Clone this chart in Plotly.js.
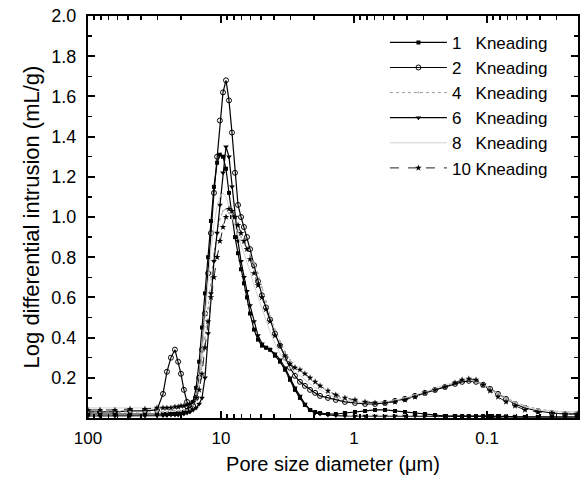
<!DOCTYPE html>
<html>
<head>
<meta charset="utf-8">
<script src="https://cdn.plot.ly/plotly-3.0.1.min.js"></script>
<style>html,body{margin:0;padding:0;background:#fff;}#chart{width:584px;height:483px;}</style>
</head>
<body>
<div id="chart"></div>
<script>
// Pore size diameter (µm), common intrusion steps
const poreSize = [100, 81.2, 62.7, 48.3, 37.3, 30.3, 27.3, 25.5, 23.8, 22.2, 21.0, 20.0, 19.0, 18.0, 17.1, 16.2, 15.4, 14.6, 13.9, 13.2,
  12.5, 11.9, 11.3, 10.7, 10.2, 9.66, 9.17, 8.71, 8.27, 7.85, 7.45, 7.07, 6.72, 6.38, 6.05, 5.65, 5.27, 4.92, 4.59, 4.28,
  3.93, 3.60, 3.30, 3.03, 2.78, 2.55, 2.34, 2.14, 1.96, 1.80, 1.57, 1.37, 1.17, 0.983, 0.826, 0.695, 0.585, 0.492, 0.414, 0.348,
  0.293, 0.246, 0.207, 0.174, 0.154, 0.137, 0.121, 0.107, 0.0949, 0.0827, 0.0720, 0.0616, 0.0518, 0.0414, 0.0325, 0.0259, 0.0210];

const seriesNames = ["1\u00A0\u00A0 Kneading", "2\u00A0\u00A0 Kneading", "4\u00A0\u00A0 Kneading", "6\u00A0\u00A0 Kneading", "8\u00A0\u00A0 Kneading", "10 Kneading"];

const kneading1 = [0.02,0.02,0.02,0.02,0.02,0.02,0.02,0.02,0.02,0.02,0.025,0.025,0.03,0.04,0.05,0.08,0.15,0.28,0.45,0.62,
  0.80,0.98,1.15,1.27,1.31,1.30,1.24,1.12,1.00,0.90,0.82,0.74,0.67,0.60,0.52,0.44,0.39,0.36,0.35,0.34,
  0.31,0.28,0.24,0.19,0.14,0.10,0.065,0.04,0.03,0.025,0.02,0.02,0.025,0.03,0.035,0.04,0.04,0.035,0.03,0.025,
  0.02,0.015,0.01,0.01,0.01,0.01,0.01,0.01,0.01,0.01,0.008,0.006,0.005,0.005,0.005,0.005,0.005];

const kneading2 = [0.03,0.03,0.03,0.035,0.035,0.04,0.12,0.23,0.30,0.34,0.28,0.22,0.14,0.08,0.05,0.06,0.10,0.20,0.34,0.52,
  0.72,0.92,1.12,1.30,1.48,1.62,1.68,1.58,1.42,1.22,1.06,1.00,0.95,0.90,0.84,0.76,0.68,0.61,0.55,0.49,
  0.42,0.36,0.30,0.25,0.21,0.18,0.16,0.14,0.125,0.11,0.10,0.09,0.08,0.075,0.07,0.07,0.075,0.085,0.095,0.11,
  0.125,0.14,0.155,0.17,0.18,0.185,0.18,0.165,0.145,0.12,0.095,0.07,0.05,0.035,0.025,0.02,0.02];

const kneading4 = [0.03,0.03,0.03,0.03,0.03,0.03,0.03,0.03,0.035,0.035,0.035,0.035,0.04,0.04,0.045,0.06,0.09,0.15,0.26,0.40,
  0.55,0.70,0.82,0.92,0.99,1.03,1.04,1.02,0.99,0.96,0.93,0.90,0.87,0.84,0.81,0.77,0.72,0.65,0.58,0.51,
  0.44,0.38,0.33,0.29,0.26,0.24,0.22,0.20,0.18,0.16,0.13,0.11,0.095,0.085,0.08,0.08,0.08,0.085,0.095,0.11,
  0.125,0.14,0.16,0.175,0.185,0.19,0.185,0.17,0.15,0.125,0.10,0.08,0.06,0.045,0.035,0.03,0.03];

const kneading6 = [0.01,0.01,0.01,0.01,0.01,0.012,0.012,0.012,0.015,0.015,0.015,0.018,0.02,0.025,0.03,0.04,0.05,0.07,0.10,0.20,
  0.42,0.62,0.78,0.92,1.06,1.22,1.35,1.30,1.15,1.00,0.88,0.78,0.70,0.63,0.56,0.48,0.41,0.37,0.35,0.34,
  0.32,0.29,0.25,0.20,0.15,0.11,0.07,0.04,0.025,0.02,0.015,0.012,0.01,0.01,0.01,0.01,0.01,0.01,0.01,0.01,
  0.01,0.01,0.01,0.01,0.008,0.008,0.008,0.008,0.006,0.006,0.005,0.005,0.005,0.005,0.005,0.005,0.005];

const kneading8 = [0.05,0.05,0.05,0.05,0.05,0.05,0.05,0.05,0.05,0.05,0.055,0.055,0.055,0.06,0.06,0.07,0.10,0.18,0.32,0.50,
  0.68,0.84,0.96,1.05,1.10,1.12,1.10,1.05,1.00,0.95,0.90,0.86,0.82,0.78,0.73,0.66,0.60,0.54,0.48,0.43,
  0.37,0.32,0.28,0.25,0.23,0.21,0.19,0.17,0.15,0.14,0.12,0.10,0.09,0.08,0.075,0.075,0.08,0.09,0.10,0.115,
  0.13,0.15,0.165,0.18,0.19,0.19,0.18,0.165,0.145,0.12,0.095,0.075,0.055,0.04,0.035,0.03,0.03];

const kneading10 = [0.04,0.04,0.04,0.045,0.045,0.05,0.05,0.05,0.05,0.055,0.055,0.06,0.06,0.065,0.07,0.08,0.10,0.14,0.22,0.35,
  0.48,0.60,0.70,0.80,0.88,0.95,1.00,1.04,1.03,1.00,0.96,0.92,0.88,0.84,0.79,0.72,0.66,0.60,0.54,0.48,
  0.41,0.36,0.31,0.27,0.25,0.24,0.22,0.20,0.18,0.16,0.135,0.115,0.10,0.09,0.08,0.075,0.075,0.08,0.09,0.105,
  0.125,0.14,0.155,0.175,0.19,0.195,0.19,0.165,0.135,0.105,0.08,0.06,0.04,0.03,0.025,0.02,0.02];

const xTickVals = [100, 10, 1, 0.1];
const xTickText = ["100", "10", "1", "0.1"];
const yTickVals = [0.2, 0.4, 0.6, 0.8, 1.0, 1.2, 1.4, 1.6, 1.8, 2.0];

const seriesValues = [kneading1, kneading2, kneading4, kneading6, kneading8, kneading10];
const styles = [
  {line: {color: '#000', width: 1.2}, marker: {symbol: 'square', size: 4, color: '#000'}, mode: 'lines+markers'},
  {line: {color: '#000', width: 1.2}, marker: {symbol: 'circle-open', size: 5, color: '#000', line: {width: 1}}, mode: 'lines+markers'},
  {line: {color: '#999', width: 1, dash: 'dot'}, marker: {symbol: 'circle', size: 2, color: '#aaa'}, mode: 'lines+markers'},
  {line: {color: '#000', width: 1.2}, marker: {symbol: 'triangle-down', size: 5, color: '#000'}, mode: 'lines+markers'},
  {line: {color: '#d0d0d0', width: 1}, mode: 'lines'},
  {line: {color: '#222', width: 1, dash: 'dash'}, marker: {symbol: 'star', size: 5, color: '#000'}, mode: 'lines+markers'}
];

const minorX = [];
[10, 1, 0.1, 0.01].forEach(d => { for (let k = 2; k <= 9; k++) minorX.push(+(k * d).toPrecision(3)); });

const traces = seriesValues.map((vals, i) => Object.assign({
  type: 'scatter', x: poreSize, y: vals, name: seriesNames[i], legendgroup: 'g' + i
}, styles[i]));

const font = 'Liberation Sans, Arial, sans-serif';
const layout = {
  width: 584, height: 483,
  margin: {l: 88, r: 6, t: 16, b: 65},
  paper_bgcolor: '#fff', plot_bgcolor: '#fff',
  font: {family: font, size: 17, color: '#000'},
  showlegend: true,
  legend: {x: 0.606, y: 0.978, xanchor: 'left', yanchor: 'top', bgcolor: 'rgba(0,0,0,0)',
    font: {family: font, size: 17, color: '#000'}, tracegroupgap: 0, traceorder: 'grouped', itemwidth: 57},
  xaxis: {
    type: 'log', range: [2, Math.log10(0.0207)], autorange: false,
    tickmode: 'array', tickvals: xTickVals, ticktext: xTickText,
    ticks: 'inside', ticklen: 7, tickwidth: 2, tickcolor: '#000',
    minor: {tickmode: 'array', tickvals: minorX, ticks: 'inside', ticklen: 4, tickwidth: 1.5, tickcolor: '#000', showgrid: false},
    showline: true, linecolor: '#000', linewidth: 2, mirror: 'allticks',
    showgrid: false, zeroline: false,
    tickfont: {family: font, size: 17}, ticklabelstandoff: 4,
    title: {text: 'Pore size diameter (\u03BCm)', font: {family: font, size: 20}, standoff: 10}
  },
  yaxis: {
    range: [0, 2], autorange: false,
    tickmode: 'array', tickvals: yTickVals, tickformat: '.1f',
    ticks: 'inside', ticklen: 7, tickwidth: 2, tickcolor: '#000',
    minor: {dtick: 0.1, tick0: 0, ticks: 'inside', ticklen: 4, tickwidth: 1.5, tickcolor: '#000', showgrid: false},
    showline: true, linecolor: '#000', linewidth: 2, mirror: 'allticks',
    showgrid: false, zeroline: false,
    tickfont: {family: font, size: 18}, ticklabelstandoff: 6,
    title: {text: 'Log differential intrusion (mL/g)', font: {family: font, size: 22}, standoff: 6}
  }
};

Plotly.newPlot('chart', traces, layout, {staticPlot: true, displayModeBar: false});
</script>
</body>
</html>
